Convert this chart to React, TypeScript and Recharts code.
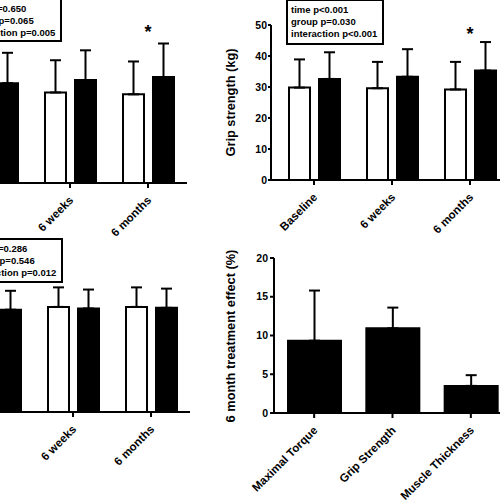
import React from "react";
import { Bar, BarChart, ErrorBar, ReferenceDot, XAxis, YAxis } from "recharts";

const FONT = '"Liberation Sans", Arial, sans-serif';

const GROUPS = ["Baseline", "6 weeks", "6 months"];

// top-left panel (maximal torque, y axis cropped off)
const torqueCtrl = [150, 146, 143];
const torqueCtrlSd = [48, 52, 53];
const torqueTrt = [161, 166, 171];
const torqueTrtSd = [49, 48, 54];
const torqueStats = ["time p=0.650", "group p=0.065", "interaction p=0.005"];

// top-right panel: grip strength (kg)
const gripCtrl = [29.8, 29.6, 29.2];
const gripCtrlSd = [9.1, 8.5, 8.9];
const gripTrt = [32.6, 33.3, 35.3];
const gripTrtSd = [8.6, 8.9, 9.2];
const gripTicks = [0, 10, 20, 30, 40, 50];
const gripStats = ["time p<0.001", "group p=0.030", "interaction p<0.001"];

// bottom-left panel (muscle thickness, y axis cropped off)
const thickCtrl = [3.35, 3.39, 3.39];
const thickCtrlSd = [0.6, 0.63, 0.63];
const thickTrt = [3.3, 3.34, 3.36];
const thickTrtSd = [0.61, 0.61, 0.62];
const thickStats = ["time p=0.286", "group p=0.546", "interaction p=0.012"];

// bottom-right panel: 6 month treatment effect (%)
const effectLabels = ["Maximal Torque", "Grip Strength", "Muscle Thickness"];
const effectMean = [9.33, 10.93, 3.5];
const effectSd = [6.47, 2.67, 1.38];
const effectTicks = [0, 5, 10, 15, 20];

const AXIS = { stroke: "#000", strokeWidth: 2 };

function groupRows(ctrl: number[], ctrlSd: number[], trt: number[], trtSd: number[]) {
  return GROUPS.map((group, i) => ({
    group,
    ctrl: ctrl[i],
    ctrlErr: [0, ctrlSd[i]],
    trt: trt[i],
    trtErr: [0, trtSd[i]],
  }));
}

const effectRows = effectLabels.map((name, i) => ({
  name,
  value: effectMean[i],
  err: [0, effectSd[i]],
}));

function SlantTick(props: any) {
  const { x, y, payload } = props;
  const ax = x + 4;
  const ay = y + 11;
  return (
    <text
      x={ax}
      y={ay}
      transform={`rotate(-45 ${ax} ${ay})`}
      textAnchor="end"
      fontSize={11.5}
      fontWeight="bold"
      fontFamily={FONT}
      fill="#000"
    >
      {payload.value}
    </text>
  );
}

// rotated y axis title at a fixed spot inside the chart svg
const yTitle = (text: string, cx: number, cy: number) => () => (
  <text
    x={cx}
    y={cy}
    transform={`rotate(-90 ${cx} ${cy})`}
    textAnchor="middle"
    dominantBaseline="central"
    fontSize={12.8}
    fontWeight="bold"
    fontFamily={FONT}
    fill="#000"
  >
    {text}
  </text>
);

const starLabel = (props: any) => {
  const { x, y } = props.viewBox;
  return (
    <text x={x} y={y + 10} textAnchor="middle" fontSize={18} fontWeight="bold" fontFamily={FONT} fill="#000">
      *
    </text>
  );
};

function StatsBox({ left, top, height, lines }: { left: number; top: number; height: number; lines: string[] }) {
  return (
    <div
      style={{
        position: "absolute",
        left,
        top,
        width: 98,
        height,
        boxSizing: "border-box",
        border: "2.5px solid #000",
        background: "#fff",
        padding: "3px 0 0 3px",
        fontFamily: FONT,
        fontWeight: "bold",
        fontSize: 9.5,
        lineHeight: "12px",
        whiteSpace: "nowrap",
      }}
    >
      {lines.map((l) => (
        <div key={l}>{l}</div>
      ))}
    </div>
  );
}

function GroupPanel({
  left,
  top,
  rows,
  domain,
  ticks,
  title,
  star,
}: {
  left: number;
  top: number;
  rows: any[];
  domain: [number, number];
  ticks?: number[];
  title?: string;
  star?: number;
}) {
  const yW = ticks ? 71 : 0;
  return (
    <div style={{ position: "absolute", left, top }}>
      <BarChart
        width={yW + 238}
        height={280}
        data={rows}
        margin={{ top: 25, right: 0, left: 0, bottom: 0 }}
        barSize={21}
        barGap={9}
      >
        <XAxis
          dataKey="group"
          height={100}
          padding={{ left: 4, right: 0 }}
          axisLine={AXIS}
          tickLine={AXIS}
          tickSize={5}
          interval={0}
          tick={<SlantTick />}
        />
        <YAxis
          hide={!ticks}
          width={yW}
          domain={domain}
          ticks={ticks}
          allowDataOverflow
          axisLine={AXIS}
          tickLine={AXIS}
          tickSize={3}
          tickMargin={1}
          tick={{ fontSize: 10.5, fontWeight: "bold", fill: "#000", fontFamily: FONT }}
          label={title ? yTitle(title, 30, 102.5) : undefined}
        />
        <Bar dataKey="ctrl" fill="#fff" stroke="#000" strokeWidth={2} isAnimationActive={false}>
          <ErrorBar dataKey="ctrlErr" width={5.5} stroke="#000" strokeWidth={2} />
        </Bar>
        <Bar dataKey="trt" fill="#000" stroke="#000" strokeWidth={2} isAnimationActive={false}>
          <ErrorBar dataKey="trtErr" width={5.5} stroke="#000" strokeWidth={2} />
        </Bar>
        {star !== undefined && (
          <ReferenceDot
            x="6 months"
            y={star}
            r={0}
            fill="none"
            stroke="none"
            ifOverflow="visible"
            label={starLabel}
          />
        )}
      </BarChart>
    </div>
  );
}

function EffectPanel() {
  return (
    <div style={{ position: "absolute", left: 200, top: 233 }}>
      <BarChart
        width={74 + 236}
        height={280}
        data={effectRows}
        margin={{ top: 25, right: 0, left: 0, bottom: 0 }}
        barSize={53}
      >
        <XAxis
          dataKey="name"
          height={100}
          padding={{ left: 1, right: 0 }}
          axisLine={AXIS}
          tickLine={AXIS}
          tickSize={5}
          interval={0}
          tick={<SlantTick />}
        />
        <YAxis
          width={74}
          domain={[0, 20]}
          ticks={effectTicks}
          axisLine={AXIS}
          tickLine={AXIS}
          tickSize={4}
          tickMargin={2}
          tick={{ fontSize: 10.5, fontWeight: "bold", fill: "#000", fontFamily: FONT }}
          label={yTitle("6 month treatment effect (%)", 30, 103)}
        />
        <Bar dataKey="value" fill="#000" stroke="#000" strokeWidth={2} isAnimationActive={false}>
          <ErrorBar dataKey="err" width={5.5} stroke="#000" strokeWidth={2} />
        </Bar>
      </BarChart>
    </div>
  );
}

export default function App() {
  return (
    <div
      style={{
        position: "fixed",
        left: 0,
        top: 0,
        width: 500,
        height: 500,
        overflow: "hidden",
        background: "#fff",
      }}
    >
      <GroupPanel
        left={-51}
        top={3}
        rows={groupRows(torqueCtrl, torqueCtrlSd, torqueTrt, torqueTrtSd)}
        domain={[0, 250]}
        star={250}
      />
      <GroupPanel
        left={200}
        top={0}
        rows={groupRows(gripCtrl, gripCtrlSd, gripTrt, gripTrtSd)}
        domain={[0, 50]}
        ticks={gripTicks}
        title="Grip strength (kg)"
        star={48.4}
      />
      <GroupPanel
        left={-48}
        top={232}
        rows={groupRows(thickCtrl, thickCtrlSd, thickTrt, thickTrtSd)}
        domain={[0, 5]}
      />
      <EffectPanel />
      <StatsBox left={-36} top={-2} height={44} lines={torqueStats} />
      <StatsBox left={286} top={-1} height={46} lines={gripStats} />
      <StatsBox left={-35} top={238} height={45} lines={thickStats} />
    </div>
  );
}
